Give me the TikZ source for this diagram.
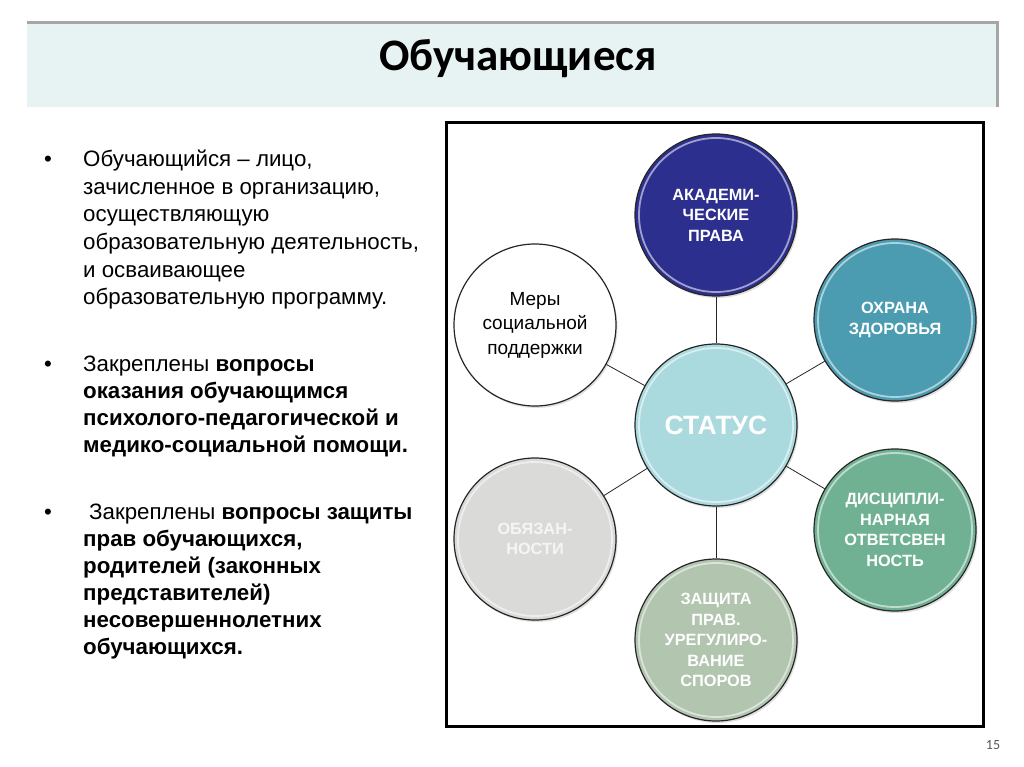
\documentclass[tikz,border=0pt]{standalone}
\usepackage{fontspec}
\setmainfont{Liberation Sans}
\newfontfamily\titlefont{Carlito}
\usetikzlibrary{shadows}
\definecolor{hdrfill}{HTML}{E6F3F2}
\definecolor{acadc}{HTML}{2C2F8E}
\definecolor{healthc}{HTML}{4B9CB1}
\definecolor{statusc}{HTML}{AADADE}
\definecolor{discc}{HTML}{70B193}
\definecolor{protc}{HTML}{B1C5AF}
\definecolor{dutyc}{HTML}{DADBD8}
\definecolor{pagec}{HTML}{555555}
\tikzset{
  body/.style={anchor=base west, inner sep=0pt, font=\fontsize{22.3}{26}\selectfont},
  bodyb/.style={anchor=base west, inner sep=0pt, font=\fontsize{22.3}{26}\selectfont\bfseries},
  bul/.style={anchor=base, inner sep=0pt, font=\fontsize{22.3}{26}\selectfont},
  circ/.style={circle, draw=black!85, line width=1.2pt, inner sep=0pt, minimum size=162pt,
    align=center, text=white, font=\fontsize{16.3}{20.5}\selectfont\bfseries,
    drop shadow={opacity=0.25, shadow xshift=1.5pt, shadow yshift=-2pt},
    path picture={\draw[white, opacity=0.55, line width=1.8pt] (path picture bounding box.center) circle (77pt);}},
  link/.style={draw=black!85, line width=0.8pt}
}
\begin{document}
\begin{tikzpicture}[x=1pt,y=-1pt]
\useasboundingbox (0,0) rectangle (1024,767);
\fill[white] (0,0) rectangle (1024,767);
% header
\fill[gray!70] (27,21) rectangle (999,107);
\fill[hdrfill] (27,24.5) rectangle (995.5,107);
\node[font=\titlefont\bfseries\fontsize{45}{50}\selectfont, inner sep=0pt] (title) at (518,59) {Обучающиеся};
% left text
\node[bul] (b1) at (48,167) {•};
\node[body] (p1a) at (83,167) {Обучающийся – лицо,};
\node[body] (p1b) at (83,194.5) {зачисленное в организацию,};
\node[body] (p1c) at (83,222) {осуществляющую};
\node[body] (p1d) at (83,249.5) {образовательную деятельность,};
\node[body] (p1e) at (83,277) {и осваивающее};
\node[body] (p1f) at (83,304.5) {образовательную программу.};
\node[bul] (b2) at (48,371) {•};
\node[body] (p2a) at (83,371) {Закреплены \textbf{вопросы}};
\node[bodyb] (p2b) at (83,398) {оказания обучающимся};
\node[bodyb] (p2c) at (83,425) {психолого-педагогической и};
\node[bodyb] (p2d) at (83,452) {медико-социальной помощи.};
\node[bul] (b3) at (48,519) {•};
\node[body] (p3a) at (89,519) {Закреплены \textbf{вопросы защиты}};
\node[bodyb] (p3b) at (83,546) {прав обучающихся,};
\node[bodyb] (p3c) at (83,573) {родителей (законных};
\node[bodyb] (p3d) at (83,600) {представителей)};
\node[bodyb] (p3e) at (83,627) {несовершеннолетних};
\node[bodyb] (p3f) at (83,654) {обучающихся.};
% frame
\draw[line width=3pt] (446,123) rectangle (983,726);
% circles
\node[circ, fill=statusc, font=\fontsize{26.5}{30}\selectfont\bfseries] (status) at (716,425) {СТАТУС};
\node[circ, fill=acadc] (acad) at (716,215) {АКАДЕМИ-\\ЧЕСКИЕ\\ПРАВА};
\node[circ, fill=healthc] (health) at (895,320) {ОХРАНА\\ЗДОРОВЬЯ};
\node[circ, fill=white, text=black, font=\fontsize{19}{24.5}\selectfont, path picture={}] (social) at (535,325) {Меры\\социальной\\поддержки};
\node[circ, fill=dutyc, text=white!92!gray] (duty) at (535,539) {ОБЯЗАН-\\НОСТИ};
\node[circ, fill=discc] (disc) at (895,530) {ДИСЦИПЛИ-\\НАРНАЯ\\ОТВЕТСВЕН\\НОСТЬ};
\node[circ, fill=protc] (prot) at (716,640) {ЗАЩИТА\\ПРАВ.\\УРЕГУЛИРО-\\ВАНИЕ\\СПОРОВ};
% connectors
\draw[link] (status) -- (acad);
\draw[link] (status) -- (health);
\draw[link] (status) -- (social);
\draw[link] (status) -- (duty);
\draw[link] (status) -- (disc);
\draw[link] (status) -- (prot);
% page number
\node[font=\titlefont\fontsize{14}{16}\selectfont, text=pagec, inner sep=0pt] (page) at (993,745) {15};
\end{tikzpicture}
\end{document}
